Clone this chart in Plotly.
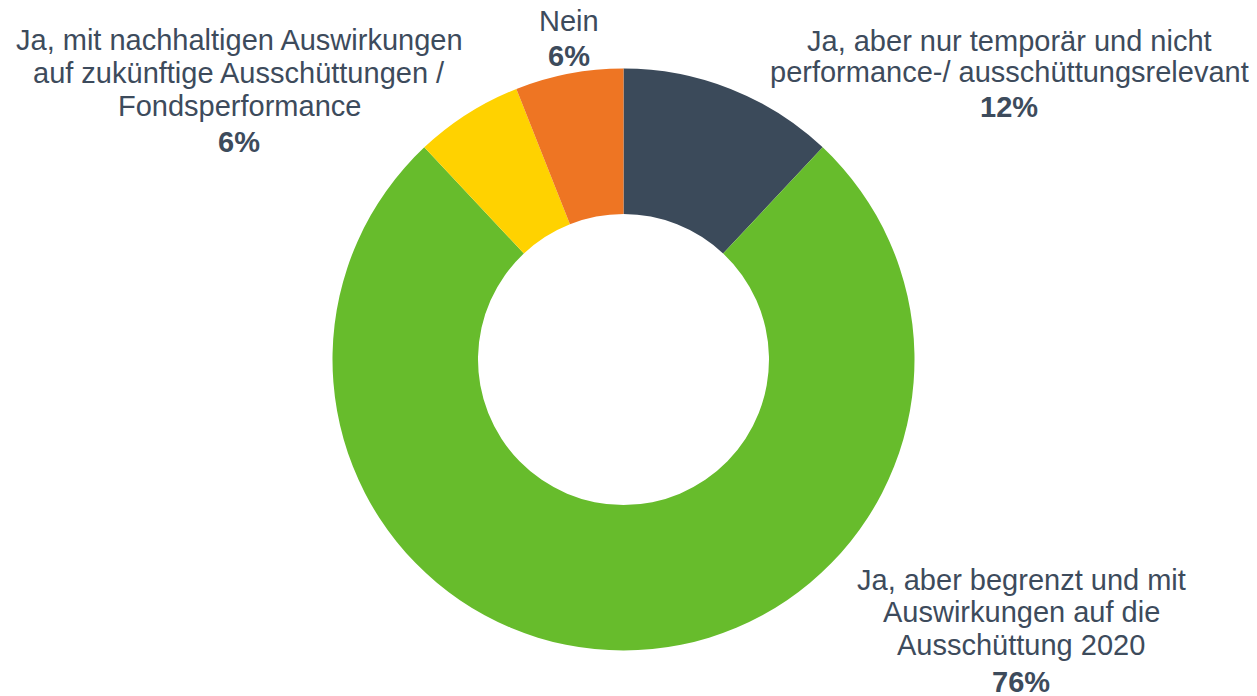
import plotly.graph_objects as go

labels = ["Ja, aber nur temporär und nicht performance-/ ausschüttungsrelevant",
          "Ja, aber begrenzt und mit Auswirkungen auf die Ausschüttung 2020",
          "Ja, mit nachhaltigen Auswirkungen auf zukünftige Ausschüttungen / Fondsperformance",
          "Nein"]
values = [12, 76, 6, 6]
colors = ["#3b4a5a", "#67bc2c", "#ffd200", "#ee7523"]
label_lines = [
    ["Ja, aber nur temporär und nicht", "performance-/ ausschüttungsrelevant"],
    ["Ja, aber begrenzt und mit", "Auswirkungen auf die", "Ausschüttung 2020"],
    ["Ja, mit nachhaltigen Auswirkungen", "auf zukünftige Ausschüttungen /", "Fondsperformance"],
    ["Nein"],
]

W, H = 1257, 696
OFF = 8  # page body margin
cx, cy, r = 623.5 - OFF, 359.5 - OFF, 291

fig = go.Figure(go.Pie(
    labels=labels, values=values, hole=0.5, sort=False, direction="clockwise",
    rotation=0, marker=dict(colors=colors, line=dict(width=0)),
    textinfo="none", hoverinfo="label+percent",
    domain=dict(x=[(cx - r) / W, (cx + r) / W], y=[1 - (cy + r) / H, 1 - (cy - r) / H]),
))

# label layout (screen pixels): center x, line center y's
label_x = [1009, 1021, 239, 569]
label_ys = [[41, 72, 107], [580, 612, 645, 682], [40, 73, 106, 142], [21, 56]]
txt_color = "#3d4b5c"
font = "Liberation Sans, Arial, sans-serif"
for lines, v, px, ys in zip(label_lines, values, label_x, label_ys):
    allines = lines + [f"<b>{v}%</b>"]
    for ln, y in zip(allines, ys):
        fig.add_annotation(
            x=(px - OFF) / W, y=1 - (y - OFF) / H, xref="paper", yref="paper",
            text=ln, showarrow=False, align="center",
            xanchor="center", yanchor="middle",
            font=dict(family=font, size=29, color=txt_color),
        )

fig.update_layout(
    width=W, height=H, margin=dict(l=0, r=0, t=0, b=0),
    showlegend=False, paper_bgcolor="white", plot_bgcolor="white",
)
fig.write_html("out.html")
